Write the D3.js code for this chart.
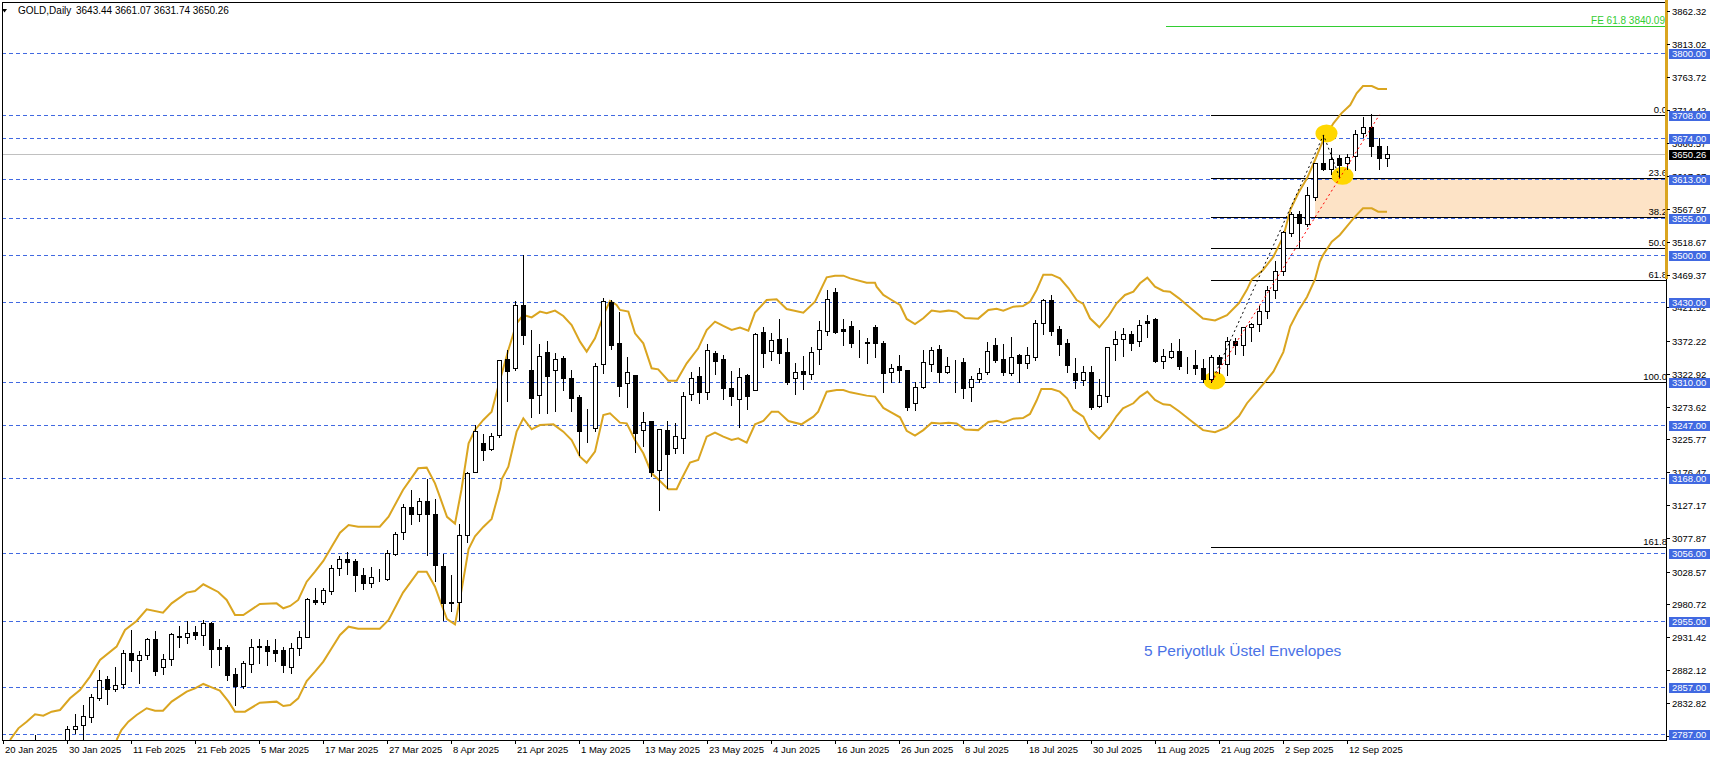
<!DOCTYPE html>
<html><head><meta charset="utf-8">
<script src="https://cdn.jsdelivr.net/npm/d3@7/dist/d3.min.js"></script>
<style>
body{margin:0;background:#fff;}
svg{display:block;}
text{font-family:"Liberation Sans",Arial,sans-serif;}
</style>
</head><body>
<svg id="chart" width="1712" height="760"></svg>
<script>
// ---------------- DATA ----------------
// bar index 0 = 20 Jan 2025 (daily bars, weekdays)
const openP = [2703,2708,2743,2755,2755,2771,2740,2763,2760,2795,2801,2812,2840,2869,2854,2861,2907,2897,2904,2928,2886,2898,2932,2932,2939,2934,2952,2916,2916,2877,2858,2891,2917,2918,2912,2912,2887,2915,2932,2987,2984,3000,3034,3048,3044,3024,3011,3019,3018,3055,3088,3124,3114,3133,3114,3037,2982,2983,3083,3177,3220,3211,3231,3345,3331,3425,3328,3291,3355,3329,3346,3316,3288,3241,3242,3337,3429,3368,3309,3321,3239,3252,3179,3239,3212,3228,3292,3320,3295,3354,3345,3301,3286,3321,3298,3385,3356,3375,3355,3316,3327,3323,3359,3386,3444,3389,3394,3372,3370,3392,3368,3325,3335,3328,3280,3303,3338,3360,3326,3337.4,3340,3303,3315,3325,3365,3345,3324,3350,3339,3348,3399,3432,3390,3368,3324,3314,3326,3275,3289,3367,3374,3382,3371,3401,3404,3342,3348,3356,3336,3336,3332,3315,3347,3338,3371,3365,3393,3397,3416,3448,3475,3532,3561,3545,3585,3636,3627,3643,3636,3646,3681,3690,3662,3643.44];
const highP = [2711,2745,2763,2764,2786,2772,2764,2770,2799,2817,2830,2846,2882,2874,2887,2912,2942,2910,2930,2940,2906,2938,2948,2955,2948,2957,2954,2929,2920,2885,2896,2928,2928,2927,2929,2917,2922,2940,2989,3004,3004,3038,3052,3057,3047,3034,3036,3033,3061,3088,3129,3150,3138,3167,3136,3055,3023,3099,3176,3246,3233,3235,3343,3358,3431,3500,3388,3367,3372,3353,3349,3328,3291,3270,3339,3435,3433,3415,3348,3321,3266,3252,3241,3253,3249,3295,3326,3333,3367,3357,3351,3327,3331,3323,3383,3392,3384,3404,3376,3339,3349,3362,3401,3447,3451,3404,3401,3388,3376,3395,3371,3337,3351,3328,3310,3358,3362,3366,3347,3343,3346,3319,3331,3370,3376,3367,3377,3352,3362,3403,3434,3440,3394,3375,3346,3334,3334,3315,3363,3386,3391,3386,3403,3410,3405,3360,3368,3375,3347,3358,3345,3350,3351,3378,3376,3393,3399,3423,3454,3490,3535,3564,3565,3601,3637,3678,3658,3648,3650,3685,3704,3709,3674,3661.07];
const lowP = [2690,2699,2735,2742,2752,2730,2739,2745,2758,2789,2772,2805,2838,2832,2851,2856,2881,2863,2899,2875,2876,2890,2917,2923,2929,2919,2887,2890,2867,2830,2856,2880,2893,2890,2895,2880,2878,2905,2931,2981,2980,2996,3023,3025,3000,3002,3006,3014,3016,3053,3077,3100,3104,3053,3015,2956,2970,2957,3072,3176,3194,3210,3229,3283,3329,3367,3259,3264,3265,3268,3299,3267,3202,3222,3238,3324,3360,3289,3274,3207,3216,3171,3120,3153,3205,3205,3284,3279,3285,3323,3285,3276,3244,3270,3298,3333,3344,3339,3308,3293,3300,3315,3337,3380,3383,3366,3362,3347,3339,3347,3295,3311,3311,3269,3269,3302,3327,3311,3324,3296,3287,3283,3310,3322,3341,3321,3321,3310,3332,3343,3382,3381,3351,3325,3302,3306,3270,3274,3281,3343,3349,3358,3364,3377,3341,3331,3346,3330,3324,3323,3311,3311,3324,3321,3352,3351,3372,3386,3406,3436,3470,3527,3512,3542,3581,3626,3620,3615,3627,3626,3675,3647,3627,3631.74];
const closeP = [2708,2743,2755,2755,2771,2740,2763,2760,2794,2799,2814,2842,2867,2854,2860,2907,2897,2904,2928,2881,2898,2936,2933,2938,2935,2952,2914,2914,2875,2858,2892,2917,2918,2910,2908,2889,2915,2932,2988,2984,3001,3034,3047,3043,3023,3011,3020,3019,3056,3085,3124,3114,3133,3114,3038,2982,2983,3083,3175,3238,3210,3230,3343,3327,3425,3381,3287,3349,3319,3345,3317,3287,3238,3240,3334,3431,3365,3305,3326,3235,3251,3177,3240,3203,3230,3290,3316,3295,3358,3342,3301,3289,3318,3289,3382,3353,3373,3353,3310,3326,3322,3355,3388,3434,3385,3387,3369,3371,3369,3369,3324,3332,3328,3274,3303,3340,3358,3326,3335,3336.9,3301,3315,3324,3356,3344,3325,3347,3339,3350,3398,3432,3387,3367,3336,3314,3326,3274,3291,3363,3374,3382,3369,3396,3398,3342,3349,3356,3335,3336,3332,3315,3347,3338,3371,3365,3393,3397,3416,3448,3476,3534,3560,3547,3588,3636,3627,3642,3634,3645,3680,3690,3661,3644,3650.26];

// x-axis tick labels: every 8 bars from bar 0
const dateLabels = ["20 Jan 2025","30 Jan 2025","11 Feb 2025","21 Feb 2025","5 Mar 2025","17 Mar 2025","27 Mar 2025","8 Apr 2025","21 Apr 2025","1 May 2025","13 May 2025","23 May 2025","4 Jun 2025","16 Jun 2025","26 Jun 2025","8 Jul 2025","18 Jul 2025","30 Jul 2025","11 Aug 2025","21 Aug 2025","2 Sep 2025","12 Sep 2025"];
const dateLabelBars = [0,8,16,24,32,40,48,56,64,72,80,88,96,104,112,120,128,136,144,152,160,168];

// right price-axis tick labels
const priceTicks = [3862.32,3813.02,3763.72,3714.42,3666.57,3617.27,3567.97,3518.67,3469.37,3421.52,3372.22,3322.92,3273.62,3225.77,3176.47,3127.17,3077.87,3028.57,2980.72,2931.42,2882.12,2832.82,2783.52];

// horizontal support / resistance levels (blue dashed)
const levels = [3800,3708,3674,3613,3555,3500,3430,3310,3247,3168,3056,2955,2857,2787];

// envelope bands [bar, price]
const upperBand = [[0.875,2778.2],[1.92,2795.5],[2.96,2805.4],[4,2816.4],[5.04,2814.4],[6.08,2820.3],[7.13,2822.8],[8.375,2840.1],[9.625,2852.5],[10.875,2872.4],[12.125,2897.2],[14.2,2917],[15.25,2941.8],[16.7,2955.1],[17.96,2972.5],[20,2967.5],[21.08,2981.4],[22.96,2997.3],[24,2999.8],[25.04,3009.7],[26.9,2998.3],[27.96,2986.4],[29,2964.1],[30.04,2964.1],[32.1,2980.4],[34.2,2981.4],[35.04,2974],[35.9,2977.5],[36.9,2986.4],[37.96,3013.6],[39,3028.5],[40.04,3044.4],[41.08,3065.7],[42.125,3086.5],[43.2,3097.9],[44.4,3095.4],[47.1,3095.4],[48.2,3110.3],[50,3150],[51.9,3182.2],[52.96,3183.2],[54,3159.9],[54.6,3140],[55.5,3110],[56.5,3100],[57.3,3150],[58.2,3219.4],[59,3239.2],[60.04,3254.1],[61.08,3266.5],[62.125,3313.6],[63.17,3358.2],[64.2,3397.8],[65.04,3410.2],[66.08,3406.7],[67.125,3415.2],[67.96,3412.7],[69,3416.7],[70.04,3408.7],[71.08,3395.4],[72.125,3370.6],[72.96,3355.7],[74,3375.5],[75.25,3415.2],[75.875,3431],[76.7,3425.1],[77.125,3417.7],[78.17,3415.2],[79,3383],[80.04,3368.1],[81.08,3330.9],[81.9,3329.4],[83.17,3312.6],[84.2,3312.6],[85.46,3338.3],[86.9,3360.6],[87.96,3387.9],[89,3400.3],[90.04,3393.9],[91.08,3387.9],[92.125,3391.4],[93.17,3386.9],[94,3413.7],[95.46,3432.5],[96.7,3433.5],[97.96,3419.1],[100.04,3413.7],[101.5,3430],[102.96,3466.2],[104,3468.7],[105.04,3468.7],[105.9,3464.7],[107.96,3458.3],[109,3458.3],[109.2,3452.4],[110.04,3440],[111.08,3432.5],[112.125,3425.1],[112.96,3404.3],[114,3396.8],[115.04,3405.3],[116.08,3416.7],[117.125,3415.2],[118.2,3416.7],[119.2,3415.2],[120.25,3405.8],[121.9,3404.8],[123.17,3417.7],[124.2,3419.6],[125.04,3416.7],[126.3,3422.6],[127.5,3423.6],[128.375,3430],[129.2,3447.4],[130.04,3470.2],[131.08,3470.2],[132.125,3464.7],[133.2,3449.9],[134.2,3432.5],[135.04,3426.6],[135.875,3405.3],[137.04,3391.9],[138.2,3408.7],[139.2,3427.6],[140.25,3440],[141.3,3444.9],[142.125,3457.3],[143.04,3465.7],[144,3452.4],[145.04,3445.9],[145.875,3444.9],[147,3435],[148.5,3420],[150,3405],[151.5,3402],[153,3410],[154.5,3428],[155.5,3448],[156.1,3463.3],[157.5,3477.1],[158.8,3497],[160.04,3526.7],[160.9,3566.4],[161.9,3591.2],[163,3613.5],[164,3640.7],[165.04,3670.5],[166.3,3695.3],[167.3,3710.1],[168.4,3722.5],[169.2,3739.9],[170,3750.8],[171.1,3750.8],[171.9,3746.3],[173,3746.3]];
const lowerBand = [[14.2,2778.2],[14.8,2793],[15.67,2805.4],[16.7,2815.4],[17.96,2825.3],[19,2821.8],[20,2821.8],[21.08,2835.2],[22.96,2850.1],[24,2855],[25.04,2861.5],[26.08,2856.5],[27.1,2851.5],[28.2,2835.2],[29,2820.3],[30.25,2820.3],[32.1,2833.7],[34.2,2835.2],[35.04,2828.7],[35.9,2830.2],[36.9,2840.1],[37.96,2865.9],[39,2879.8],[40.04,2894.7],[41.08,2914.5],[42.125,2934.3],[43.2,2946.7],[44.4,2943.7],[47.1,2943.7],[48.2,2956.6],[50,2997.3],[51.9,3028.5],[52.96,3028.5],[54,3006.2],[54.6,2986.4],[55.5,2958],[56.5,2950],[57.3,3000],[58.2,3062],[59,3081],[60.04,3095],[61.08,3107],[62.125,3152],[62.33,3165.8],[63.17,3184.7],[64.2,3236.7],[65.04,3256.6],[66.08,3240.2],[67.125,3246.6],[68.8,3247.6],[70.04,3236.7],[71.08,3224.3],[72.125,3199.5],[72.96,3190.6],[74,3207],[75.04,3261.5],[75.875,3264],[77.125,3250.1],[77.96,3249.1],[79,3224.3],[80.04,3204.5],[81.08,3174.8],[81.9,3166],[83.17,3151],[84.2,3151],[84.8,3166],[85.875,3190.6],[86.9,3194.6],[87.96,3229.3],[89,3235.2],[90.04,3229.3],[91.08,3224.3],[91.9,3226.8],[92.96,3220.4],[94,3247.6],[95.04,3252.6],[96.08,3266.5],[96.9,3266.5],[98.17,3252.6],[99.8,3247.6],[101.3,3259],[101.9,3266.5],[102.96,3296.2],[104.2,3298.7],[105.04,3298.7],[105.9,3295.2],[107.96,3290.3],[109,3288.8],[109.625,3278.9],[110.04,3272],[111.08,3265],[112.125,3258],[112.96,3238],[114,3231],[115.04,3239],[116.08,3250],[117.125,3249],[118.2,3250],[119.2,3249],[120.25,3240],[121.9,3239],[123.17,3251],[124.2,3253],[125.04,3250],[126.3,3256],[127.5,3257],[128.375,3263],[129.2,3283],[129.8,3300.2],[131.08,3300.2],[132.1,3296.2],[133,3286.3],[133.8,3269],[135.04,3259],[135.875,3239],[137.04,3226],[138.2,3242],[139.2,3260],[140,3271.4],[141.3,3278.9],[142.125,3288.8],[143.04,3296.2],[144,3283.8],[145.04,3277.4],[145.875,3276.4],[147,3267],[148.5,3253],[150,3239],[151.5,3236],[153,3243],[154.5,3260],[155.5,3279],[156.5,3293],[157.5,3307],[158.8,3326],[160.04,3355],[160.9,3393],[161.9,3416],[163,3437],[164,3463],[164.6,3489.5],[165.04,3500],[166.1,3519.3],[167.1,3529.2],[167.96,3541.6],[169,3556.5],[170,3568.9],[171.1,3568.9],[171.9,3563.9],[173,3563.9]];

// Fibonacci retracement
const fibRatios = [0,23.6,38.2,50,61.8,100,161.8];
const fibLabels = ["0.0","23.6","38.2","50.0","61.8","100.0","161.8"];
const fibAnchorBars = [151,172];
const fibAnchorPrices = [3310.5,3708];
// Fibonacci expansion points A,B,C and its 61.8 level
const feBars = [151,165,167];
const fePrices = [3310.5,3678,3615];
const feLevel = 3840.09;
const feStartBar = 145.4;
// highlighted zone
const zoneBar = 164, zoneTop = 3613, zoneBottom = 3555;
const lastPrice = 3650.26;
const headerText = ["GOLD,Daily","3643.44 3661.07 3631.74 3650.26"];

// ---------------- DRAW ----------------
const svg = d3.select("#chart");
const L = 2, R = 1666, T = 2, B = 740;
const y = d3.scaleLinear().domain([2778.14, 3875.70]).range([B, T]);
const x = d3.scaleLinear().domain([0, 1]).range([3, 11]);
const py = v => Math.round(y(v)) + 0.5;
const bx = i => Math.round(x(i));

svg.append("rect").attr("width",1712).attr("height",760).attr("fill","#fff");
svg.append("defs").append("clipPath").attr("id","plot")
  .append("rect").attr("x",L+1).attr("y",T+1).attr("width",R-L-1).attr("height",B-T-1);
const plot = svg.append("g").attr("clip-path","url(#plot)");

// zone
plot.append("rect").attr("x", bx(zoneBar)).attr("y", Math.round(y(zoneTop)))
  .attr("width", R - bx(zoneBar)).attr("height", Math.round(y(zoneBottom)) - Math.round(y(zoneTop)))
  .attr("fill","#FDE3C6");

// bid line
plot.append("line").attr("x1",L).attr("x2",R).attr("y1",py(lastPrice)).attr("y2",py(lastPrice))
  .attr("stroke","#C0C0C0").attr("stroke-width",1);

// dashed levels
plot.selectAll(".lvl").data(levels).join("line").attr("class","lvl")
  .attr("x1",L).attr("x2",R).attr("y1",d=>py(d)).attr("y2",d=>py(d))
  .attr("stroke","#4169E1").attr("stroke-width",1).attr("stroke-dasharray","4,3")
  .attr("shape-rendering","crispEdges");

// FE level
plot.append("line").attr("x1",x(feStartBar)).attr("x2",R).attr("y1",py(feLevel)).attr("y2",py(feLevel))
  .attr("stroke","#32CD32").attr("stroke-width",1).attr("shape-rendering","crispEdges");
svg.append("text").attr("x",R-1).attr("y",Math.round(y(feLevel))-2).attr("text-anchor","end")
  .attr("font-size",10).attr("fill","#32CD32").text("FE 61.8 " + feLevel.toFixed(2));

// fib retracement lines
const fibRange = fibAnchorPrices[1]-fibAnchorPrices[0];
const fibVals = fibRatios.map(r => fibAnchorPrices[1] - r/100*fibRange);
plot.selectAll(".fib").data(fibVals).join("line").attr("class","fib")
  .attr("x1",bx(fibAnchorBars[0])).attr("x2",R).attr("y1",d=>py(d)).attr("y2",d=>py(d))
  .attr("stroke","#000").attr("stroke-width",1).attr("shape-rendering","crispEdges");
svg.selectAll(".fibt").data(fibVals).join("text").attr("class","fibt")
  .attr("x",R+1).attr("y",d=>Math.round(y(d))-2).attr("text-anchor","end")
  .attr("font-size",9.5).attr("fill","#000").text((d,i)=>fibLabels[i]);

// envelopes
const bandLine = d3.line().x(d=>x(d[0])).y(d=>y(d[1]));
[upperBand, lowerBand].forEach(b => {
  plot.append("path").attr("d", bandLine(b)).attr("fill","none")
    .attr("stroke","#DAA520").attr("stroke-width",2);
});

// yellow markers
plot.selectAll(".mk").data(feBars).join("ellipse").attr("class","mk")
  .attr("cx",(d)=>x(d)+3.5).attr("cy",(d,i)=>y(fePrices[i])-1.5)
  .attr("rx",11).attr("ry",9).attr("fill","#FFD700");

// candles
const idx = d3.range(openP.length);
const cg = plot.append("g").attr("shape-rendering","crispEdges");
cg.selectAll(".wick").data(idx).join("line").attr("class","wick")
  .attr("x1",i=>bx(i)+0.5).attr("x2",i=>bx(i)+0.5)
  .attr("y1",i=>Math.round(y(highP[i]))).attr("y2",i=>Math.round(y(lowP[i]))+1)
  .attr("stroke","#000").attr("stroke-width",1);
cg.selectAll(".body").data(idx).join("rect").attr("class","body")
  .attr("x",i=>bx(i)-1.5)
  .attr("y",i=>py(Math.max(openP[i],closeP[i])))
  .attr("width",4)
  .attr("height",i=>Math.max(0, Math.round(y(Math.min(openP[i],closeP[i]))) - Math.round(y(Math.max(openP[i],closeP[i])))))
  .attr("fill",i=>closeP[i]>=openP[i] ? "#fff" : "#000")
  .attr("stroke","#000").attr("stroke-width",1);

// FE dotted legs (black) and retracement diagonal (red)
const feLine = d3.line().x(d=>x(d[0])+0.5).y(d=>y(d[1]));
plot.append("path").attr("d", feLine(feBars.map((b,i)=>[b,fePrices[i]])))
  .attr("fill","none").attr("stroke","#000").attr("stroke-width",1).attr("stroke-dasharray","2,3");
plot.append("path").attr("d", feLine(fibAnchorBars.map((b,i)=>[b,fibAnchorPrices[i]])))
  .attr("fill","none").attr("stroke","#FF0000").attr("stroke-width",1).attr("stroke-dasharray","2,3");

// envelope caption
svg.append("text").attr("x",1144).attr("y",656).attr("font-size",15.5).attr("fill","#4A72E6")
  .text("5 Periyotluk Üstel Envelopes");

// frame
svg.append("rect").attr("x",L+0.5).attr("y",T+0.5).attr("width",R-L).attr("height",B-T)
  .attr("fill","none").attr("stroke","#000").attr("stroke-width",1).attr("shape-rendering","crispEdges");

// orange marker on price axis
svg.append("rect").attr("x",R-1).attr("y",0).attr("width",3).attr("height",279).attr("fill","#DAA520");

// price axis
const ax = svg.append("g");
ax.selectAll(".pt").data(priceTicks).join("line").attr("class","pt")
  .attr("x1",R+1).attr("x2",R+4).attr("y1",d=>py(d)).attr("y2",d=>py(d))
  .attr("stroke","#000").attr("shape-rendering","crispEdges");
ax.selectAll(".ptl").data(priceTicks).join("text").attr("class","ptl")
  .attr("x",R+6).attr("y",d=>Math.round(y(d))+3.5).attr("font-size",9.5).attr("fill","#000")
  .text(d=>d.toFixed(2));
// level labels
const lg = svg.append("g");
lg.selectAll("rect").data(levels).join("rect")
  .attr("x",R+3).attr("y",d=>Math.round(y(d))-4).attr("width",41).attr("height",10).attr("fill","#4169E1");
lg.selectAll("text").data(levels).join("text")
  .attr("x",R+6).attr("y",d=>Math.round(y(d))+4).attr("font-size",9.5).attr("fill","#fff")
  .text(d=>d.toFixed(2));
svg.append("rect").attr("x",R+3).attr("y",Math.round(y(lastPrice))-4).attr("width",41).attr("height",10).attr("fill","#000");
svg.append("text").attr("x",R+6).attr("y",Math.round(y(lastPrice))+4).attr("font-size",9.5).attr("fill","#fff").text(lastPrice.toFixed(2));

// time axis
const tg = svg.append("g");
tg.selectAll("line").data(dateLabelBars).join("line")
  .attr("x1",i=>bx(i)+0.5).attr("x2",i=>bx(i)+0.5).attr("y1",B).attr("y2",B+4)
  .attr("stroke","#000").attr("shape-rendering","crispEdges");
tg.selectAll("text").data(dateLabelBars).join("text")
  .attr("x",i=>bx(i)+2).attr("y",B+13).attr("font-size",9.5).attr("fill","#000")
  .text((d,k)=>dateLabels[k]);

// header
svg.append("path").attr("d","M2,9 L7,9 L4.5,12.5 Z").attr("fill","#000");
svg.append("text").attr("x",18).attr("y",14).attr("font-size",10).attr("fill","#000").text(headerText[0]);
svg.append("text").attr("x",76).attr("y",14).attr("font-size",10).attr("fill","#000").text(headerText[1]);
</script>
</body></html>
